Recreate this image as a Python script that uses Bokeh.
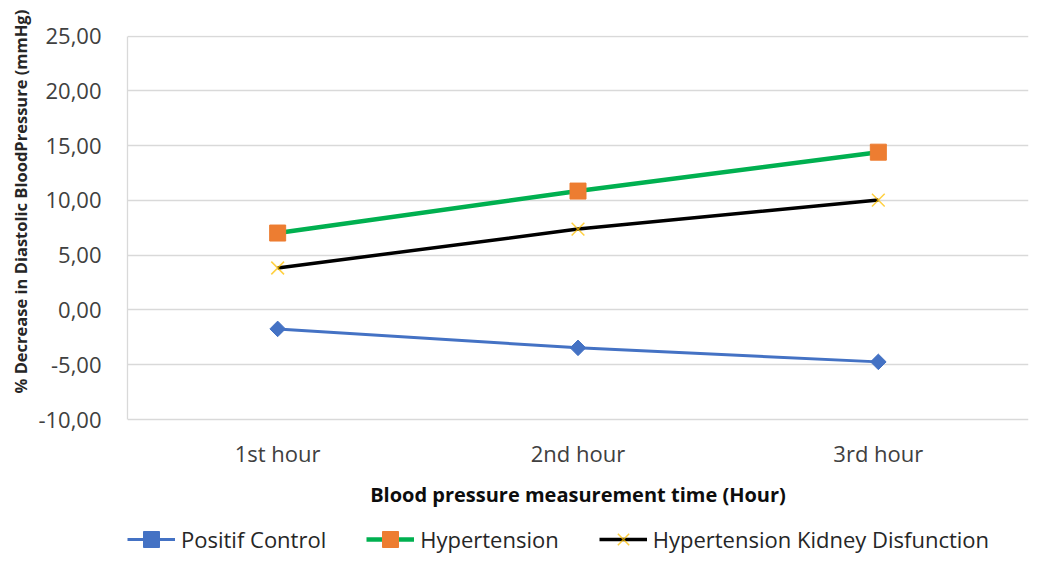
import math
from bokeh.plotting import figure
from bokeh.models import (Legend, LegendItem, FixedTicker, CustomJSTickFormatter,
                          Range1d, FactorRange, Title)
from bokeh.embed import file_html
from bokeh.resources import INLINE

hours = ["1st hour", "2nd hour", "3rd hour"]
positif_control = [-1.73, -3.46, -4.74]
hypertension = [7.02, 10.85, 14.40]
hyp_kidney = [3.83, 7.38, 10.03]
y_ticks = [-10, -5, 0, 5, 10, 15, 20, 25]
series_names = ["Positif Control", "Hypertension", "Hypertension Kidney Disfunction"]
y_title = "% Decrease in Diastolic BloodPressure (mmHg)"
x_title = "Blood pressure measurement time (Hour)"

FONT = "Open Sans"

W, H = 1056, 568
# plot frame runs to the bottom so the legend can sit under the x axis
p = figure(width=W, height=H,
           x_range=FactorRange(*hours, range_padding=0),
           y_range=Range1d(-23.6, 25.05),
           output_backend="svg", toolbar_location=None,
           min_border_left=127, min_border_right=W - 1028,
           min_border_top=35, min_border_bottom=0)
p.outline_line_color = None
p.background_fill_color = "white"
p.border_fill_color = "white"

# grid
p.xgrid.grid_line_color = None
p.ygrid.grid_line_color = "#D9D9D9"
p.ygrid.grid_line_width = 1.3

# y axis
p.yaxis.ticker = FixedTicker(ticks=y_ticks)
p.yaxis.bounds = (-10, 25)
p.yaxis.formatter = CustomJSTickFormatter(code="return tick.toFixed(2).replace('.', ',');")
p.yaxis.axis_line_color = "#D9D9D9"
p.yaxis.axis_line_width = 1.3
p.yaxis.major_tick_line_color = None
p.yaxis.minor_tick_line_color = None
p.yaxis.major_label_text_font = FONT
p.yaxis.major_label_text_font_size = "22px"
p.yaxis.major_label_text_color = "#404040"
p.yaxis.major_label_standoff = 20

# y axis title, aligned with the -10..25 part of the frame
yt = Title(text=y_title, align="left", offset=175, standoff=8,
           text_font=FONT, text_font_size="16.5px", text_font_style="bold",
           text_color="#262626")
p.add_layout(yt, "left")

# x axis, placed at the -10 line
p.xaxis.fixed_location = -10
p.xaxis.axis_line_color = None
p.xaxis.major_tick_line_color = None
p.xaxis.minor_tick_line_color = None
p.xaxis.major_label_text_font = FONT
p.xaxis.major_label_text_font_size = "22px"
p.xaxis.major_label_text_color = "#404040"
p.xaxis.major_label_standoff = 12
p.xaxis.axis_label = x_title
p.xaxis.axis_label_text_font = FONT
p.xaxis.axis_label_text_font_size = "20px"
p.xaxis.axis_label_text_font_style = "bold"
p.xaxis.axis_label_text_color = "#0d0d0d"
p.xaxis.axis_label_standoff = 10

# series
l1 = p.line(hours, positif_control, line_color="#4472C4", line_width=3)
m1 = p.scatter(hours, positif_control, marker="square", size=11, angle=math.pi / 4,
               fill_color="#4472C4", line_color="#4472C4")

l2 = p.line(hours, hypertension, line_color="#00B050", line_width=4.5)
m2 = p.scatter(hours, hypertension, marker="square", size=16,
               fill_color="#ED7D31", line_color="#ED7D31")

l3 = p.line(hours, hyp_kidney, line_color="black", line_width=3.5)
m3 = p.scatter(hours, hyp_kidney, marker="x", size=18,
               line_color="#FFC000", line_alpha=0.75, line_width=1.5)

legend = Legend(items=[
    LegendItem(label=series_names[0], renderers=[l1, m1]),
    LegendItem(label=series_names[1], renderers=[l2, m2]),
    LegendItem(label=series_names[2], renderers=[l3, m3]),
], orientation="horizontal", location=(0, 9))
legend.label_text_font = FONT
legend.label_text_font_size = "22px"
legend.label_text_color = "#262626"
legend.glyph_width = 48
legend.glyph_height = 40
legend.label_standoff = 6
legend.spacing = 40
legend.padding = 0
legend.margin = 0
legend.background_fill_alpha = 0
legend.border_line_color = None
p.add_layout(legend, "center")

open("out.html", "w").write(file_html(p, INLINE))
